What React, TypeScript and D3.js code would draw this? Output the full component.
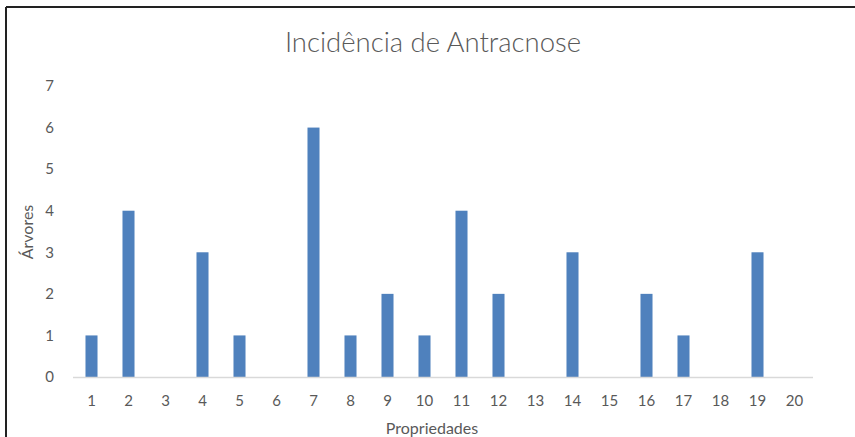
import React, { useEffect, useRef } from 'react';
import * as d3 from 'd3';

const propriedades = ['1', '2', '3', '4', '5', '6', '7', '8', '9', '10', '11', '12', '13', '14', '15', '16', '17', '18', '19', '20'];
const arvores = [1, 4, 0, 3, 1, 0, 6, 1, 2, 1, 4, 2, 0, 3, 0, 2, 1, 0, 3, 0];
const yTicks = [0, 1, 2, 3, 4, 5, 6, 7];

const App: React.FC = () => {
  const svgRef = useRef<SVGSVGElement>(null);

  useEffect(() => {
    if (!svgRef.current) return;
    const width = 855;
    const height = 437;
    const font = 'Lato, "Open Sans", sans-serif';
    const textColor = '#595959';

    const svg = d3.select(svgRef.current);
    svg.selectAll('*').remove();
    svg.attr('width', width).attr('height', height);

    // frame (only left and top visible in the crop)
    svg.append('line')
      .attr('x1', 6).attr('x2', 6).attr('y1', 7).attr('y2', height)
      .attr('stroke', '#222').attr('stroke-width', 2);
    svg.append('line')
      .attr('x1', 6).attr('x2', width).attr('y1', 7).attr('y2', 7)
      .attr('stroke', '#222').attr('stroke-width', 2);

    const x = d3.scaleBand()
      .domain(propriedades)
      .range([73, 813])
      .paddingInner(0.675)
      .paddingOuter(0.3375);

    const y = d3.scaleLinear()
      .domain([0, 7])
      .range([377, 86]);

    // bars
    svg.append('g')
      .selectAll('rect')
      .data(arvores)
      .join('rect')
      .attr('x', (d, i) => x(propriedades[i])!)
      .attr('y', d => y(d))
      .attr('width', x.bandwidth())
      .attr('height', d => y(0) - y(d))
      .attr('fill', '#4F81BD');

    // x axis line
    svg.append('line')
      .attr('x1', 73).attr('x2', 813)
      .attr('y1', y(0) + 0.5).attr('y2', y(0) + 0.5)
      .attr('stroke', '#D9D9D9').attr('stroke-width', 1.5);

    // x tick labels
    svg.append('g')
      .selectAll('text')
      .data(propriedades)
      .join('text')
      .attr('x', d => x(d)! + x.bandwidth() / 2)
      .attr('y', 406)
      .attr('text-anchor', 'middle')
      .style('font-family', font)
      .style('font-size', '15px')
      .style('fill', textColor)
      .text(d => d);

    // y tick labels
    svg.append('g')
      .selectAll('text')
      .data(yTicks)
      .join('text')
      .attr('x', 54)
      .attr('y', d => y(d))
      .attr('dy', '0.35em')
      .attr('text-anchor', 'end')
      .style('font-family', font)
      .style('font-size', '15px')
      .style('fill', textColor)
      .text(d => d);

    // title
    svg.append('text')
      .attr('x', 433)
      .attr('y', 52)
      .attr('text-anchor', 'middle')
      .style('font-family', font)
      .style('font-size', '27.5px')
      .style('font-weight', 300)
      .style('fill', textColor)
      .text('Incidência de Antracnose');

    // axis titles
    svg.append('text')
      .attr('x', 432)
      .attr('y', 434)
      .attr('text-anchor', 'middle')
      .style('font-family', font)
      .style('font-size', '16px')
      .style('fill', textColor)
      .text('Propriedades');

    svg.append('text')
      .attr('transform', `translate(33, 232) rotate(-90)`)
      .attr('text-anchor', 'middle')
      .style('font-family', font)
      .style('font-size', '16px')
      .style('fill', textColor)
      .text('Árvores');
  }, []);

  return (
    <svg
      ref={svgRef}
      style={{ position: 'absolute', left: 0, top: 0, background: '#fff' }}
    />
  );
};

export default App;
